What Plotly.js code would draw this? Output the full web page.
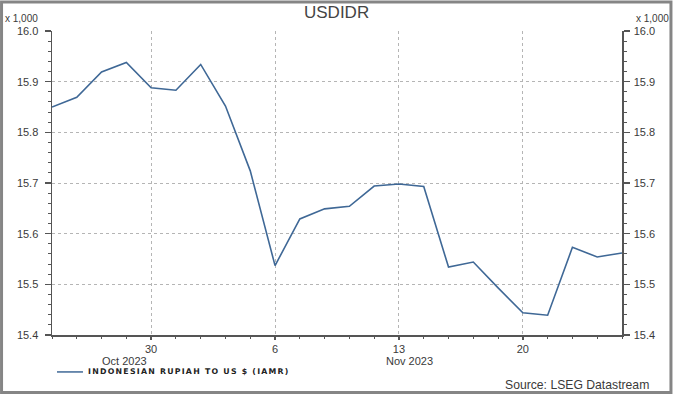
<!DOCTYPE html>
<html>
<head>
<meta charset="utf-8">
<script src="https://cdn.plot.ly/plotly-3.0.1.min.js"></script>
<style>
html,body{margin:0;padding:0;background:#fff;}
#chart{width:673px;height:394px;}
.annotation[data-index="3"] text{letter-spacing:1.25px;}
</style>
</head>
<body>
<div id="chart"></div>
<script>
// Business days shown on the chart
var dates = ["2023-10-24","2023-10-25","2023-10-26","2023-10-27",
  "2023-10-30","2023-10-31","2023-11-01","2023-11-02","2023-11-03",
  "2023-11-06","2023-11-07","2023-11-08","2023-11-09","2023-11-10",
  "2023-11-13","2023-11-14","2023-11-15","2023-11-16","2023-11-17",
  "2023-11-20","2023-11-21","2023-11-22","2023-11-23","2023-11-24"];
// USDIDR in thousands
var usdidr = [15.850, 15.869, 15.919, 15.938,
  15.888, 15.883, 15.934, 15.852, 15.724,
  15.537, 15.629, 15.649, 15.654, 15.694,
  15.698, 15.693, 15.534, 15.544, 15.493,
  15.444, 15.439, 15.573, 15.554, 15.562];
var tickDates = ["2023-10-30","2023-11-06","2023-11-13","2023-11-20"];
var tickLabels = ["30","6","13","20"];
var monthLabels = ["Oct 2023","Nov 2023"];
var seriesName = "INDONESIAN RUPIAH TO US $ (IAMR)";

var W = 673, H = 394, L = 52, R = 50.5, T = 30.5, B = 59;
var pw = W - L - R, ph = H - T - B;
function px2x(p){ return (p - L) / pw; }
function py2y(p){ return 1 - (p - T) / ph; }

var xs = dates.map(function(d){ return dates.indexOf(d); });
var tickIdx = tickDates.map(function(d){ return dates.indexOf(d); });
var gridCol = "#b5b5b5", axCol = "#555", txt = "#3a3a3a";
var fam = "Liberation Sans, Arial, sans-serif";
var font = {family: fam, size: 11, color: txt};

var traces = [
  {x: xs, y: usdidr, type: "scatter", mode: "lines", name: seriesName,
   line: {color: "#3f6896", width: 1.6}, hoverinfo: "skip"},
  {x: xs, y: usdidr, yaxis: "y2", type: "scatter", mode: "lines",
   line: {color: "rgba(0,0,0,0)", width: 0}, hoverinfo: "skip", showlegend: false}
];

var yax = {
  range: [15.4, 16.0], dtick: 0.1, tick0: 15.4, tickformat: ".1f",
  showgrid: true, gridcolor: gridCol, griddash: "dot", gridwidth: 1,
  zeroline: false, showline: true, linecolor: axCol, linewidth: 1.5,
  ticks: "outside", ticklen: 6, tickcolor: axCol, tickwidth: 1.5,
  ticklabelstandoff: 4,
  minor: {dtick: 0.02, ticks: "outside", ticklen: 3, tickcolor: axCol, tickwidth: 1, showgrid: false},
  tickfont: font, fixedrange: true
};
var y2ax = JSON.parse(JSON.stringify(yax));
y2ax.overlaying = "y"; y2ax.side = "right"; y2ax.showgrid = false; y2ax.matches = "y";
y2ax.ticklabelstandoff = 2;

var annotations = [
  {text: "USDIDR", xref: "paper", yref: "paper", x: px2x(336.5), y: py2y(12),
   showarrow: false, xanchor: "center", yanchor: "middle",
   font: {family: fam, size: 17, color: "#444"}},
  {text: "x 1,000", xref: "paper", yref: "paper", x: px2x(3), y: py2y(18),
   showarrow: false, xanchor: "left", yanchor: "middle",
   font: {family: fam, size: 10, color: txt}},
  {text: "x 1,000", xref: "paper", yref: "paper", x: px2x(672), y: py2y(18),
   showarrow: false, xanchor: "right", yanchor: "middle",
   font: {family: fam, size: 10, color: txt}},
  {text: seriesName, xref: "paper", yref: "paper", x: px2x(106), y: py2y(371.5),
   showarrow: false, xanchor: "left", yanchor: "middle",
   font: {family: "DejaVu Sans, sans-serif", size: 7.8, color: "#222", weight: "bold"}},
  {text: "Source: LSEG Datastream", xref: "paper", yref: "paper", x: px2x(652), y: py2y(385.5),
   showarrow: false, xanchor: "right", yanchor: "middle",
   font: {family: fam, size: 12.2, color: txt}},
  {text: monthLabels[0], xref: "paper", yref: "paper", x: px2x(125), y: py2y(361),
   showarrow: false, xanchor: "center", yanchor: "middle", font: font},
  {text: monthLabels[1], xref: "paper", yref: "paper", x: px2x(410), y: py2y(361),
   showarrow: false, xanchor: "center", yanchor: "middle", font: font}
];

var shapes = [
  {type: "line", xref: "paper", yref: "paper", x0: px2x(57), x1: px2x(83), y0: py2y(372), y1: py2y(372),
   line: {color: "#3f6896", width: 1.5}},
  {type: "rect", xref: "paper", yref: "paper", x0: px2x(1.5), x1: px2x(671.5), y0: py2y(1.5), y1: py2y(392.5),
   line: {color: "#858585", width: 3}, fillcolor: "rgba(0,0,0,0)"}
];

var layout = {
  width: W, height: H, margin: {l: L, r: R, t: T, b: B},
  paper_bgcolor: "#fff", plot_bgcolor: "#fff", showlegend: false,
  font: font,
  xaxis: {
    range: [0, dates.length - 1], tickmode: "array", tickvals: tickIdx, ticktext: tickLabels,
    showgrid: true, gridcolor: gridCol, griddash: "dot", gridwidth: 1,
    zeroline: false, showline: true, linecolor: axCol, linewidth: 1.5,
    ticks: "outside", ticklen: 3.5, tickcolor: axCol, tickwidth: 1.5,
    ticklabelstandoff: 0,
    minor: {dtick: 1, tick0: 0, ticks: "outside", ticklen: 2.5, tickcolor: axCol, tickwidth: 1, showgrid: false},
    tickfont: font, fixedrange: true
  },
  yaxis: yax, yaxis2: y2ax,
  annotations: annotations, shapes: shapes
};
Plotly.newPlot("chart", traces, layout, {staticPlot: true, displayModeBar: false});
</script>
</body>
</html>
